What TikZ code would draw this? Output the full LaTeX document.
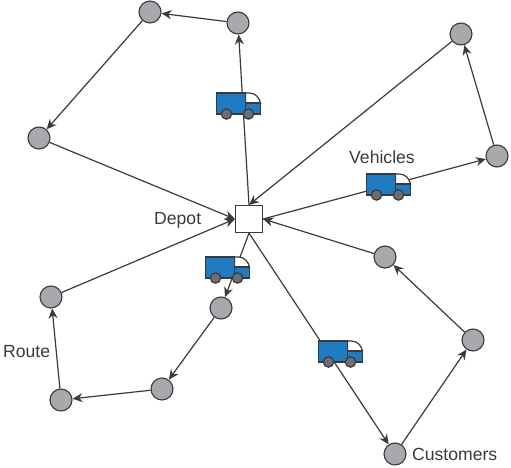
\documentclass[tikz,border=0pt]{standalone}
\usepackage{fontspec}
\setmainfont{Liberation Sans}
\usetikzlibrary{arrows.meta}
\definecolor{lin}{HTML}{3A3A3C}
\definecolor{cust}{HTML}{A7A9AC}
\definecolor{blu}{HTML}{1F7CC2}
\definecolor{whl}{HTML}{6D6E71}
\tikzset{
 cust/.style={circle,draw=lin,fill=cust,line width=1.1pt,minimum size=22pt,inner sep=0pt},
 depot/.style={rectangle,draw=lin,fill=white,line width=1.2pt,minimum size=27pt,inner sep=0pt},
 route/.style={draw=lin,line width=1.2pt,-{Stealth[length=10pt,width=9pt]}},
 lab/.style={font=\fontsize{17.6}{20}\selectfont,text=lin,inner sep=0pt},
 truck/.pic={
  \draw[lin,line width=1.2pt,fill=white] (29,0) -- (33,0) .. controls (39,0) and (43,5) .. (44,10) -- (29,10) -- cycle;
  \draw[lin,line width=1.2pt,fill=blu] (29,10) rectangle (44,21);
  \draw[lin,line width=1.2pt,fill=blu] (0,0) rectangle (29,21);
  \draw[lin,line width=1.2pt,fill=whl] (10,21) circle (5.2);
  \draw[lin,line width=1.2pt,fill=whl] (32,21) circle (5.2);
 }
}
\begin{document}
\begin{tikzpicture}[x=1pt,y=-1pt]
\useasboundingbox (0,0) rectangle (511,468);
\node[cust] (a) at (150,12) {};
\node[cust] (b) at (238,23) {};
\node[cust] (c) at (39,138) {};
\node[cust] (d) at (461,34) {};
\node[cust] (e) at (497,156) {};
\node[cust] (f) at (385,257) {};
\node[cust] (g) at (473,340) {};
\node[cust] (h) at (395,454) {};
\node[cust] (i) at (51,297) {};
\node[cust] (j) at (221,308) {};
\node[cust] (k) at (162,389) {};
\node[cust] (l) at (61,400) {};
\node[depot] (D) at (249,219) {};
\draw[route] (D.north) -- (b);
\draw[route] (b) -- (a);
\draw[route] (a) -- (c);
\draw[route] (c) -- (D.west);
\draw[route] (D.east) -- (e);
\draw[route] (e) -- (d);
\draw[route] (d) -- (D.north);
\draw[route] (D.south) -- (h);
\draw[route] (h) -- (g);
\draw[route] (g) -- (f);
\draw[route] (f) -- (D.east);
\draw[route] (D.south) -- (j);
\draw[route] (j) -- (k);
\draw[route] (k) -- (l);
\draw[route] (l) -- (i);
\draw[route] (i) -- (D.west);
\pic at (216.5,93) {truck};
\pic at (366.5,174) {truck};
\pic at (205.5,257) {truck};
\pic at (318.5,341) {truck};
\node[lab,anchor=base west] (t1) at (154,224) {Depot};
\node[lab,anchor=base west] (t2) at (349,163) {Vehicles};
\node[lab,anchor=base west] (t3) at (3,357) {Route};
\node[lab,anchor=base west] (t4) at (412,460) {Customers};
\end{tikzpicture}
\end{document}
